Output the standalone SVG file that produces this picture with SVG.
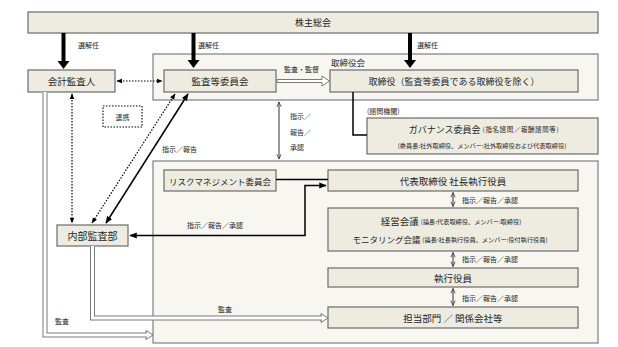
<svg xmlns="http://www.w3.org/2000/svg" width="618" height="347" viewBox="0 0 618 347">
<defs>
<style>
text{font-family:"Noto Sans CJK JP","Noto Sans CJK SC",sans-serif;fill:#262626}
.box{fill:#eeece1;stroke:#6b6b6b;stroke-width:1.2}
.cont{fill:#f7f6f1;stroke:#7f7f7f;stroke-width:1.2}
.t{font-size:9.5px;text-anchor:middle;dominant-baseline:central}
.s{font-size:7px;dominant-baseline:central}
.xs{font-size:6.2px}
.thick{fill:#000}
.solid{fill:none;stroke:#000;stroke-width:1.5}
.dot{fill:none;stroke:#000;stroke-width:1.2;stroke-dasharray:1.5 1.5}
.thin{fill:none;stroke:#333;stroke-width:1}
.dblo{fill:none;stroke:#7a7a7a;stroke-width:5}
.dbli{fill:none;stroke:#fff;stroke-width:3}
.hollow{fill:#fff;stroke:#7a7a7a;stroke-width:1}
</style>
<marker id="ah" viewBox="0 0 10 10" refX="9" refY="5" markerWidth="5" markerHeight="5" orient="auto-start-reverse"><path d="M0,1 L10,5 L0,9 z" fill="#000"/></marker>
<marker id="oa" viewBox="0 0 10 10" refX="9" refY="5" markerWidth="6" markerHeight="6" orient="auto-start-reverse"><path d="M1,1.5 L9,5 L1,8.5" fill="none" stroke="#333" stroke-width="1.3"/></marker>
</defs>
<rect width="618" height="347" fill="#fff"/>

<g id="shareholders">
<rect class="box" x="28" y="12" width="570" height="21"/>
<text class="t" x="313" y="22.5" style="font-size:9px">株主総会</text>
</g>

<g id="board">
<rect class="cont" x="153" y="54" width="445" height="46"/>
<text class="s" x="331" y="62" style="font-size:8.5px">取締役会</text>
</g>

<g id="execution-area">
<rect class="cont" x="153" y="161" width="445" height="182"/>
</g>

<g id="auditor">
<rect class="box" x="28" y="70" width="87" height="22"/>
<text class="t" x="71.5" y="81">会計監査人</text>
</g>

<g id="audit-committee">
<rect class="box" x="164" y="70" width="112" height="22"/>
<text class="t" x="220" y="81">監査等委員会</text>
</g>

<g id="directors">
<rect class="box" x="330" y="70" width="248" height="22"/>
<text class="t" x="454" y="81" style="font-size:9px">取締役（監査等委員である取締役を除く）</text>
</g>

<g id="cooperation">
<rect x="103" y="106" width="39" height="21" fill="#fff" stroke="#000" stroke-width="1.1" stroke-dasharray="1.5 1.5"/>
<text class="s" x="122.5" y="116.5" text-anchor="middle">連携</text>
</g>

<g id="governance">
<text class="s" x="367" y="111">(諮問機関)</text>
<rect class="box" x="367" y="118" width="231" height="36"/>
<text class="t" x="484" y="129" style="font-size:9px">ガバナンス委員会 <tspan style="font-size:6.5px;letter-spacing:0.6px">(指名諮問／報酬諮問等)</tspan></text>
<text class="t xs" x="482" y="145">(委員長:社外取締役、メンバー:社外取締役および代表取締役)</text>
</g>

<g id="risk-committee">
<rect class="box" x="164" y="170" width="112" height="21"/>
<text class="t" x="220" y="180.5" style="font-size:8.5px">リスクマネジメント委員会</text>
</g>

<g id="president">
<rect class="box" x="328" y="170" width="250" height="21"/>
<text class="t" x="453" y="180.5">代表取締役 社長執行役員</text>
</g>

<g id="internal-audit">
<rect class="box" x="57" y="225" width="71" height="21"/>
<text class="t" x="92.5" y="235.5" style="font-size:10px">内部監査部</text>
</g>

<g id="meetings">
<rect class="box" x="328" y="208" width="250" height="43"/>
<text class="t" x="451" y="221">経営会議 <tspan class="xs">(議長:代表取締役、メンバー:取締役)</tspan></text>
<text class="t" x="450" y="239" style="font-size:8.5px">モニタリング会議 <tspan class="xs">(議長:社長執行役員、メンバー:役付執行役員)</tspan></text>
</g>

<g id="officers">
<rect class="box" x="328" y="268" width="250" height="19"/>
<text class="t" x="453" y="277.5">執行役員</text>
</g>

<g id="departments">
<rect class="box" x="328" y="307" width="250" height="21"/>
<text class="t" x="453" y="317.5">担当部門 ／ 関係会社等</text>
</g>

<g id="connectors">
<!-- election arrows -->
<polygon class="thick" points="61.5,33 65.5,33 65.5,61 69.5,61 63.5,69 57.5,61 61.5,61"/>
<polygon class="thick" points="191.5,33 195.5,33 195.5,60 199.5,60 193.5,68 187.5,60 191.5,60"/>
<polygon class="thick" points="408,33 412,33 412,60 416,60 410,68 404,60 408,60"/>
<text class="s" x="78" y="45">選解任</text>
<text class="s" x="198" y="45">選解任</text>
<text class="s" x="417" y="45">選解任</text>

<!-- audit/supervise hollow arrow -->
<polygon class="hollow" points="277,79.5 322,79.5 322,76 329.5,81 322,86 322,82.5 277,82.5"/>
<text class="s" x="284" y="68.5">監査・監督</text>

<!-- dotted links -->
<line class="dot" x1="117" y1="81" x2="162" y2="81" marker-start="url(#ah)" marker-end="url(#ah)"/>
<line class="dot" x1="72" y1="94" x2="72" y2="223" marker-start="url(#ah)" marker-end="url(#ah)"/>
<line class="dot" x1="175" y1="94" x2="92" y2="223" marker-start="url(#ah)" marker-end="url(#ah)"/>
<line class="solid" x1="188" y1="94" x2="106" y2="223" marker-start="url(#ah)" marker-end="url(#ah)"/>
<text class="s" x="162" y="149">指示／報告</text>

<!-- board <-> execution -->
<line class="thin" x1="279" y1="102" x2="279" y2="159" marker-start="url(#oa)" marker-end="url(#oa)"/>
<text class="s" x="290" y="116">指示／</text>
<text class="s" x="290" y="132">報告／</text>
<text class="s" x="290" y="147">承認</text>

<!-- directors to governance -->
<path class="solid" d="M353,92 V135 H367"/>

<!-- risk committee to president -->
<line class="solid" x1="276" y1="179.5" x2="328" y2="179.5"/>

<!-- internal audit <-> president -->
<path class="solid" d="M130,235.5 H305 V185.5 H326" marker-start="url(#ah)" marker-end="url(#ah)"/>
<text class="s" x="187" y="225">指示／報告／承認</text>

<!-- execution chain -->
<line class="thin" x1="453" y1="192.5" x2="453" y2="206.5" marker-start="url(#oa)" marker-end="url(#oa)"/>
<text class="s" x="462" y="200">指示／報告／承認</text>
<line class="thin" x1="453" y1="252.5" x2="453" y2="266.5" marker-start="url(#oa)" marker-end="url(#oa)"/>
<text class="s" x="462" y="259">指示／報告／承認</text>
<line class="thin" x1="453" y1="288.5" x2="453" y2="305.5" marker-start="url(#oa)" marker-end="url(#oa)"/>
<text class="s" x="462" y="297.5">指示／報告／承認</text>

<!-- audit double-line arrows -->
<polygon class="hollow" points="146,330.5 153,335 146,339.5"/>
<path class="dblo" d="M45,92.5 V335 H147"/>
<path class="dbli" d="M45,92 V335 H147.5"/>
<text class="s" x="55" y="321">監査</text>

<polygon class="hollow" points="321,313.5 328,318 321,322.5"/>
<path class="dblo" d="M92.5,246.5 V318 H322"/>
<path class="dbli" d="M92.5,246 V318 H322.5"/>
<text class="s" x="218" y="309">監査</text>
</g>
</svg>
